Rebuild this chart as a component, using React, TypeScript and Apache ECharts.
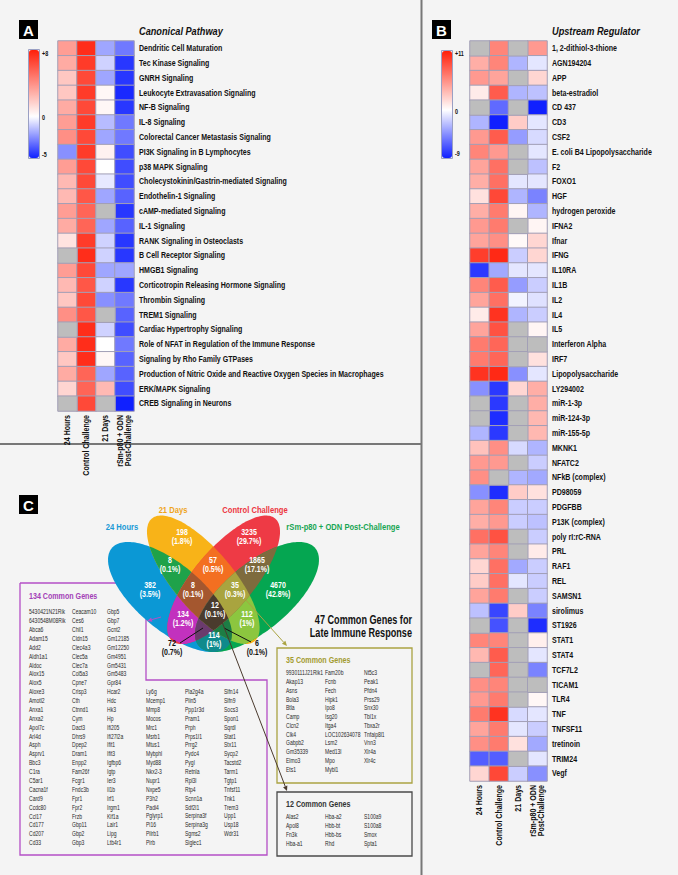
import React, { useEffect, useRef } from "react";
import * as echarts from "echarts";

const F = "'Liberation Sans', Arial, Helvetica, sans-serif";
const CX = 0.83; // horizontal condensing of the bold condensed typeface

// ---------- Panel A data ----------
const conditions = ["24 Hours", "Control Challenge", "21 Days", "rSm-p80 + ODN\nPost-Challenge"];
const pathways = [
  "Dendritic Cell Maturation", "Tec Kinase Signaling", "GNRH Signaling", "Leukocyte Extravasation Signaling",
  "NF-B Signaling", "IL-8 Signaling", "Colorectal Cancer Metastasis Signaling", "PI3K Signaling in B Lymphocytes",
  "p38 MAPK Signaling", "Cholecystokinin/Gastrin-mediated Signaling", "Endothelin-1 Signaling", "cAMP-mediated Signaling",
  "IL-1 Signaling", "RANK Signaling in Osteoclasts", "B Cell Receptor Signaling", "HMGB1 Signaling",
  "Corticotropin Releasing Hormone Signaling", "Thrombin Signaling", "TREM1 Signaling", "Cardiac Hypertrophy Signaling",
  "Role of NFAT in Regulation of the Immune Response", "Signaling by Rho Family GTPases",
  "Production of Nitric Oxide and Reactive Oxygen Species in Macrophages", "ERK/MAPK Signaling", "CREB Signaling in Neurons",
];
const pathway24h = [3.5, 3, 2, 2, 3, 3.5, 4, -2.5, 3.5, 2.5, 2.5, 3.5, 3, 1, null, 3.5, 2.5, 2, 4, null, 3, 2, 3, 1.5, null];
const pathwayControl = [7.5, 7, 6.5, 7, 6.5, 7, 6.5, 7, 6.5, 6.5, 6, 5.5, 5.5, 7, 7.5, 6.5, 6, 6.5, 6, 7.5, 7.5, 7.5, 5.5, 5.5, 6.5];
const pathway21d = [-2, -1, -2, 0.3, 0.3, -1.5, -2, 0.5, 0, -0.5, -2, null, -2, -1, -1, -2, -1, -2.5, null, -1, 0, 0.3, -2, 2.5, null];
const pathwayRsm = [-3, -4.5, -4.5, -4.8, -4.5, -3, -3, -4, -4, -4, -3.5, -4.5, -3.5, -4.5, -4.5, -2, -4.5, -3, -3.5, -4, -3, -3.5, -3.5, -4, -5];
const pathwayScale = [-5, 8];

// ---------- Panel B data ----------
const regulators = [
  "1, 2-dithiol-3-thione", "AGN194204", "APP", "beta-estradiol", "CD 437", "CD3", "CSF2", "E. coli B4 Lipopolysaccharide",
  "F2", "FOXO1", "HGF", "hydrogen peroxide", "IFNA2", "Ifnar", "IFNG", "IL10RA", "IL1B", "IL2", "IL4", "IL5",
  "Interferon Alpha", "IRF7", "Lipopolysaccharide", "LY294002", "miR-1-3p", "miR-124-3p", "miR-155-5p", "MKNK1",
  "NFATC2", "NFkB (complex)", "PD98059", "PDGFBB", "P13K (complex)", "poly rI:rC-RNA", "PRL", "RAF1", "REL", "SAMSN1",
  "sirolimus", "ST1926", "STAT1", "STAT4", "TCF7L2", "TICAM1", "TLR4", "TNF", "TNFSF11", "tretinoin", "TRIM24", "Vegf",
];
const regulator24h = [null, 4, 5, 1, null, -3, 5, 6, 4.5, 4, 1.5, 4, 5, 4.5, 9.5, -8, 6, 4.5, 1, 4.5,
  6.5, 6.5, 10, -4.5, null, null, -3, 3, 5, 5.5, -4.5, 4.5, 4, 7, 4.5, 2, 2.5, 4.5,
  -2.5, null, 6, 3.5, null, 5.5, 5, 6.5, 4.5, 5.5, -6.5, 2];
const regulatorControl = [6, 6, 4.5, 8, -6, -9, 8, 5, 7, 7, 9, 6.5, 6.5, 5.5, 10.5, -3.5, 8, 7, 10, 8.5,
  7.5, 7.5, 10.5, -8, -8, -8.5, -8, 5.5, 5, null, -8.5, 6, 5, 8.5, 6, 7, 7, 6.5,
  -7.5, -7, 6, 8, 7.5, 6, 6.5, 10, 6.5, 6.5, -6.5, 9];
const regulator21d = [null, -3, null, -3, null, 2.5, -4, null, null, -1, -3, 0.5, null, 0.3, -2, -1, -4, -0.5, -3, null,
  null, null, -4.5, 2, null, null, null, -1.5, null, -3, 2.5, -2, -2, null, null, -3.5, -1, null,
  2.5, null, null, null, null, null, null, -1.5, -1, 1.5, null, -2];
const regulatorRsm = [5, -1, 2, -2.5, -9, -1, -1.5, -1, -2.5, -1, -5, -3, 0.5, 2, 2, -1, -2, -1.2, -2, 0.5,
  null, 1.5, -1, 4, 4, 3.5, 3.5, -3, -2, -3.5, 1.5, -2, -2.5, -2, 1, -2, -2, -2,
  -5, -8.5, 0.8, -1, -5, null, 0.4, -1, -2, -3.5, -1, -4.5];
const regulatorScale = [-9, 11];

// ---------- Panel C data ----------
const vennSetNames = ["24 Hours", "21 Days", "Control Challenge", "rSm-p80 + ODN Post-Challenge"];
const vennRegions = ["B", "C", "AB", "BC", "CD", "A", "ABC", "BCD", "D", "AC", "ABCD", "BD", "AD", "ACD", "ABD"];
const vennCounts = [198, 3235, 8, 57, 1865, 382, 8, 35, 4670, 134, 12, 112, 114, 72, 6];
const vennPercents = ["1.8%", "29.7%", "0.1%", "0.5%", "17.1%", "3.5%", "0.1%", "0.3%", "42.8%", "1.2%", "0.1%", "1%", "1%", "0.7%", "0.1%"];

const genes134 = [
  ["5430421N21Rik", "6430548M08Rik", "Abca6", "Adam15", "Add2", "Aldh1a1", "Aldoc", "Alox15", "Alox5", "Aloxe3", "Amotl2", "Anxa1", "Anxa2", "Apol7c", "Arl4d", "Asph", "Asprv1", "Bbc3", "C1ra", "C5ar1", "Cacna1f", "Card9", "Ccdc80", "Ccl17", "Cd177", "Cd207", "Cd33"],
  ["Ceacam10", "Ces6", "Chil1", "Cldn15", "Clec4a3", "Clec5a", "Clec7a", "Col5a3", "Cpne7", "Crisp3", "Cth", "Ctnnd1", "Cym", "Dact3", "Dhrs9", "Dpep2", "Dram1", "Enpp2", "Fam26f", "Fcgr1", "Fndc3b", "Fpr1", "Fpr2", "Frzb", "Gbp11", "Gbp2", "Gbp3"],
  ["Gbp5", "Gbp7", "Gcnt2", "Gm12185", "Gm12250", "Gm4951", "Gm5431", "Gm5483", "Gpr84", "Hcar2", "Hdc", "Hk3", "Hp", "Ifi205", "Ifi27l2a", "Ifit1", "Ifit3", "Igfbp6", "Igtp", "Ier3", "Il1b", "Irf1", "Irgm1", "Kif1a", "Lair1", "Lipg", "Ltb4r1"],
  ["Ly6g", "Mcemp1", "Mmp8", "Mocos", "Mrc1", "Msrb1", "Mtus1", "Mybphl", "Myd88", "Nkx2-3", "Nupr1", "Nxpe5", "P3h2", "Padi4", "Pglyrp1", "Pi16", "Pilrb1", "Pirb"],
  ["Pla2g4a", "Plin5", "Ppp1r3d", "Pram1", "Prph", "Prps1l1", "Prrg2", "Pydc4", "Pygl", "Retnla", "Rpl3l", "Rtp4", "Scnn1a", "Sdf2l1", "Serpina3f", "Serpina3g", "Sgms2", "Siglec1"],
  ["Slfn14", "Slfn9", "Socs3", "Spon1", "Sqrdl", "Stat1", "Stx11", "Sycp2", "Tacstd2", "Tarm1", "Tgtp1", "Tnfsf11", "Tnk1", "Trem3", "Upp1", "Usp18", "Wdr31"],
];
const genes35 = [
  ["9930111J21Rik1", "Akap13", "Asns", "Bola3", "Btla", "Camp", "Clcn2", "Clk4", "Gabpb2", "Gm35339", "Elmo3", "Ets1"],
  ["Fam20b", "Fcnb", "Fech", "Hipk1", "Ipo8", "Isg20", "Itga4", "LOC102634078", "Lsm2", "Med13l", "Mpo", "Mybl1"],
  ["Nt5c3", "Peak1", "Pfdn4", "Prss29", "Snx30", "Tbl1x", "Tbxa2r", "Tnfaip8l1", "Vnn3", "Xlr4a", "Xlr4c"],
];
const genes12 = [
  ["Alas2", "Apol8", "Fn3k", "Hba-a1"],
  ["Hba-a2", "Hbb-bt", "Hbb-bs", "Rhd"],
  ["S100a9", "S100a8", "Smox", "Spta1"],
];

// ---------- helpers ----------
const GRAY = "#bdbdbd";
const BLUE = [16, 32, 255];
const RED = [255, 31, 10];

function mix(a: number[], t: number) {
  const c = a.map((v) => Math.round(255 + (v - 255) * t));
  return `rgb(${c[0]},${c[1]},${c[2]})`;
}
function ramp(min: number, max: number) {
  const out: string[] = [];
  for (let v = min; v <= max; v++) out.push(v < 0 ? mix(BLUE, -v / -min) : mix(RED, v / max));
  return out;
}
function cells(cols: (number | null)[][], missing: boolean) {
  const out: number[][] = [];
  cols.forEach((col, c) =>
    col.forEach((v, r) => {
      if (missing && v == null) out.push([c, r, 0]);
      if (!missing && v != null) out.push([c, r, v]);
    })
  );
  return out;
}

function ellipsePoly(cx: number, cy: number, a: number, b: number, deg: number, n = 180) {
  const t = (deg * Math.PI) / 180;
  const pts: number[][] = [];
  for (let i = 0; i < n; i++) {
    const s = (2 * Math.PI * i) / n;
    const ex = a * Math.cos(s), ey = b * Math.sin(s);
    pts.push([cx + ex * Math.cos(t) - ey * Math.sin(t), cy + ex * Math.sin(t) + ey * Math.cos(t)]);
  }
  return pts;
}
function inter(P: number[], Q: number[], A: number[], B: number[]) {
  const [x1, y1] = P, [x2, y2] = Q, [x3, y3] = A, [x4, y4] = B;
  const d = (x1 - x2) * (y3 - y4) - (y1 - y2) * (x3 - x4);
  const t = ((x1 - x3) * (y3 - y4) - (y1 - y3) * (x3 - x4)) / d;
  return [x1 + t * (x2 - x1), y1 + t * (y2 - y1)];
}
function clip(subject: number[][], cp: number[][]) {
  let area = 0;
  for (let i = 0; i < cp.length; i++) {
    const p = cp[i], q = cp[(i + 1) % cp.length];
    area += p[0] * q[1] - q[0] * p[1];
  }
  const sg = Math.sign(area);
  let output = subject;
  for (let i = 0; i < cp.length; i++) {
    const A = cp[i], B = cp[(i + 1) % cp.length];
    const input = output;
    output = [];
    if (!input.length) break;
    const inside = (p: number[]) => sg * ((B[0] - A[0]) * (p[1] - A[1]) - (B[1] - A[1]) * (p[0] - A[0])) >= 0;
    for (let j = 0; j < input.length; j++) {
      const P = input[j], Q = input[(j + 1) % input.length];
      const pin = inside(P), qin = inside(Q);
      if (pin) {
        output.push(P);
        if (!qin) output.push(inter(P, Q, A, B));
      } else if (qin) output.push(inter(P, Q, A, B));
    }
  }
  return output;
}
function arrow(x1: number, y1: number, x2: number, y2: number, color: string, w = 1) {
  const ang = Math.atan2(y2 - y1, x2 - x1);
  const L = 5, W = 2.3;
  const bx = x2 - L * Math.cos(ang), by = y2 - L * Math.sin(ang);
  return [
    { type: "line", silent: true, shape: { x1, y1, x2: bx, y2: by }, style: { stroke: color, lineWidth: w } },
    {
      type: "polygon", silent: true,
      shape: { points: [[x2, y2], [bx + W * Math.sin(ang), by - W * Math.cos(ang)], [bx - W * Math.sin(ang), by + W * Math.cos(ang)]] },
      style: { fill: color },
    },
  ];
}
function txt(x: number, y: number, text: string, o: any = {}) {
  const { scaleX, rotation, ...style } = o;
  return {
    type: "text", x, y, silent: true, scaleX: scaleX ?? 1, rotation: rotation ?? 0,
    style: { text, fontFamily: F, fontSize: 9, fill: "#111", textAlign: "left", textVerticalAlign: "middle", ...style },
  };
}
function geneCols(xs: number[], y0: number, rowH: number, cols: string[][], startRows: number[]) {
  return cols.map((names, i) =>
    txt(xs[i], y0 + startRows[i] * rowH - rowH / 2, names.join("\n"), {
      fontSize: 6.8, lineHeight: rowH, fill: "#2a2a2a", textVerticalAlign: "top", scaleX: 0.74,
    })
  );
}
function panelLabel(x: number, y: number, s: string) {
  return [
    { type: "rect", silent: true, shape: { x, y, width: 19, height: 19 }, style: { fill: "#000" } },
    txt(x + 9.5, y + 10, s, { fill: "#fff", fontSize: 15, fontWeight: "bold", textAlign: "center" }),
  ];
}
const bold = (o: any = {}) => ({ fontWeight: "bold", scaleX: CX, ...o });

// Venn layout (ellipses: 24 Hours, 21 Days, Control Challenge, rSm-p80), mirror-symmetric about x = 213.5
const ellipses = [
  { cx: 170, cy: 597, a: 76, b: 33, deg: 40 },
  { cx: 203.3, cy: 579.8, a: 80, b: 30, deg: 50 },
  { cx: 223.7, cy: 579.8, a: 80, b: 30, deg: 130 },
  { cx: 257, cy: 597, a: 76, b: 33, deg: 140 },
];
const regionColors: Record<string, string> = {
  A: "#0b98d5", B: "#f8b318", C: "#ee3a45", D: "#05a651",
  AB: "#1fa24a", BC: "#f36f21", CD: "#7e6b3d", AC: "#c231be", BD: "#8cc63f", AD: "#0f8a8c",
  ABC: "#a4572f", BCD: "#a9a43f", ACD: "#6b3b6d", ABD: "#1d7d45", ABCD: "#4a3b2d",
};
const regionLabelPos: Record<string, number[]> = {
  B: [182, 537], C: [249, 537], AB: [170, 565], BC: [213, 565], CD: [257, 565], A: [150, 590], ABC: [193, 590],
  BCD: [235, 590], D: [278, 590], AC: [183, 619], ABCD: [215, 610], BD: [247, 619], AD: [214, 640], ACD: [172, 648], ABD: [257, 648],
};

function buildVenn() {
  const polys = ellipses.map((e) => ellipsePoly(e.cx, e.cy, e.a, e.b, e.deg));
  const letters = ["A", "B", "C", "D"];
  const masks: number[] = [];
  for (let m = 1; m < 16; m++) masks.push(m);
  const pc = (m: number) => (m & 1) + ((m >> 1) & 1) + ((m >> 2) & 1) + ((m >> 3) & 1);
  masks.sort((x, y) => pc(x) - pc(y) || x - y);
  const els: any[] = [];
  masks.forEach((m) => {
    const idx = [0, 1, 2, 3].filter((i) => m & (1 << i));
    let poly = polys[idx[0]];
    for (let k = 1; k < idx.length; k++) poly = clip(poly, polys[idx[k]]);
    const key = idx.map((i) => letters[i]).join("");
    if (poly.length > 2) els.push({ type: "polygon", silent: true, shape: { points: poly }, style: { fill: regionColors[key] } });
  });
  return els;
}

export default function App() {
  const ref = useRef<HTMLDivElement>(null);
  useEffect(() => {
    document.body.style.margin = "0";
    const chart = echarts.init(ref.current!, null, { renderer: "svg" });

    const vennLabels = vennRegions.map((k, i) => {
      const [x, y] = regionLabelPos[k];
      const outside = k === "ACD" || k === "ABD";
      return txt(x, y, `${vennCounts[i]}\n(${vennPercents[i]})`, bold({
        fill: outside ? "#111" : "#fff", fontSize: 8.5, lineHeight: 8.5, textAlign: "center",
      }));
    });

    const graphics: any[] = [
      { type: "line", silent: true, shape: { x1: 421.5, y1: 0, x2: 421.5, y2: 875 }, style: { stroke: "#777", lineWidth: 2 } },
      { type: "line", silent: true, shape: { x1: 0, y1: 444, x2: 421, y2: 444 }, style: { stroke: "#777", lineWidth: 2 } },
      ...panelLabel(19, 20, "A"),
      ...panelLabel(432, 20, "B"),
      ...panelLabel(19, 495, "C"),
      txt(139, 31, "Canonical Pathway", bold({ fontSize: 11.5, fontStyle: "italic", scaleX: 0.8 })),
      txt(552, 31, "Upstream Regulator", bold({ fontSize: 11.5, fontStyle: "italic", scaleX: 0.8 })),
      { type: "rect", silent: true, shape: { x: 28.5, y: 49.5, width: 11, height: 109 }, style: { fill: "none", stroke: "#9aa0c4", lineWidth: 1 }, z: 10 },
      { type: "rect", silent: true, shape: { x: 441.5, y: 50.5, width: 11, height: 108 }, style: { fill: "none", stroke: "#9aa0c4", lineWidth: 1 }, z: 10 },
      txt(42, 54, "+" + pathwayScale[1], bold({ fontSize: 6.5 })),
      txt(42, 118, "0", bold({ fontSize: 6.5 })),
      txt(42, 155, String(pathwayScale[0]), bold({ fontSize: 6.5 })),
      txt(455, 54, "+" + regulatorScale[1], bold({ fontSize: 6.5 })),
      txt(455, 112, "0", bold({ fontSize: 6.5 })),
      txt(455, 154, String(regulatorScale[0]), bold({ fontSize: 6.5 })),
      { type: "polyline", silent: true, shape: { points: [[20, 583], [146, 583], [146, 680], [267, 680], [267, 855], [20, 855], [20, 583]] }, style: { stroke: "#b44fc6", lineWidth: 1.3, fill: "none" } },
      { type: "rect", silent: true, shape: { x: 277, y: 648, width: 135, height: 135 }, style: { stroke: "#aaa342", lineWidth: 1.3, fill: "none" } },
      { type: "rect", silent: true, shape: { x: 277, y: 792, width: 135, height: 64 }, style: { stroke: "#4a4a4a", lineWidth: 1.3, fill: "none" } },
      ...buildVenn(),
      ...vennLabels,
      { type: "line", silent: true, shape: { x1: 180, y1: 643, x2: 203, y2: 628 }, style: { stroke: "#111", lineWidth: 1 } },
      { type: "line", silent: true, shape: { x1: 224, y1: 628, x2: 251, y2: 642 }, style: { stroke: "#111", lineWidth: 1 } },
      ...arrow(161, 617, 147, 621, "#b44fc6", 1),
      ...arrow(244, 598, 287, 646, "#aaa342", 1),
      ...arrow(219, 614, 287, 791, "#4a3a2e", 1),
      txt(122, 527, vennSetNames[0], bold({ fill: "#1a9ad6", fontSize: 9.5, textAlign: "center", scaleX: 0.8 })),
      txt(173, 510, vennSetNames[1], bold({ fill: "#efa51c", fontSize: 9.5, textAlign: "center", scaleX: 0.8 })),
      txt(255, 510, vennSetNames[2], bold({ fill: "#ec3540", fontSize: 9.5, textAlign: "center", scaleX: 0.8 })),
      txt(343, 527, vennSetNames[3], bold({ fill: "#17a553", fontSize: 9.5, textAlign: "center", scaleX: 0.8 })),
      txt(412, 626, "47 Common Genes for\nLate Immune Response", bold({ fontSize: 12, lineHeight: 13.5, textAlign: "right", scaleX: 0.76 })),
      txt(29, 596, "134 Common Genes", bold({ fill: "#a33fb7", fontSize: 9.5, scaleX: 0.75 })),
      ...geneCols([29, 72, 107, 146, 185, 224], 612, 8.88, genes134, [0, 0, 0, 9, 9, 9]),
      txt(286, 660, "35 Common Genes", bold({ fill: "#a39b30", fontSize: 9.5, scaleX: 0.75 })),
      ...geneCols([286, 325, 364], 673, 8.77, genes35, [0, 0, 0]),
      txt(286, 804, "12 Common Genes", bold({ fill: "#333", fontSize: 9.5, scaleX: 0.75 })),
      ...geneCols([286, 325, 364], 817, 9, genes12, [0, 0, 0]),
    ];

    const hiddenAxis = { axisLine: { show: false }, axisTick: { show: false }, splitLine: { show: false }, axisLabel: { show: false } };
    const option: any = {
      animation: false,
      backgroundColor: "#f4f4f4",
      grid: [
        { left: 58, top: 41, width: 76, height: 370 },
        { left: 470, top: 41, width: 77, height: 740 },
      ],
      xAxis: [0, 1].map((g) => ({ type: "category", gridIndex: g, data: conditions, ...hiddenAxis })),
      yAxis: [pathways, regulators].map((d, g) => ({ type: "category", gridIndex: g, data: d, inverse: true, ...hiddenAxis })),
      visualMap: [
        {
          type: "continuous", seriesIndex: 0, min: pathwayScale[0], max: pathwayScale[1], calculable: false,
          left: 29, top: 50, itemWidth: 10, itemHeight: 108, padding: 0, hoverLink: false,
          inRange: { color: ramp(pathwayScale[0], pathwayScale[1]) },
        },
        {
          type: "continuous", seriesIndex: 1, min: regulatorScale[0], max: regulatorScale[1], calculable: false,
          left: 442, top: 51, itemWidth: 10, itemHeight: 107, padding: 0, hoverLink: false,
          inRange: { color: ramp(regulatorScale[0], regulatorScale[1]) },
        },
        {
          type: "continuous", show: false, seriesIndex: [2, 3], min: -1, max: 1,
          inRange: { color: [GRAY, GRAY] },
        },
      ],
      series: [
        { data: cells([pathway24h, pathwayControl, pathway21d, pathwayRsm], false), xAxisIndex: 0, yAxisIndex: 0 },
        { data: cells([regulator24h, regulatorControl, regulator21d, regulatorRsm], false), xAxisIndex: 1, yAxisIndex: 1 },
        { data: cells([pathway24h, pathwayControl, pathway21d, pathwayRsm], true), xAxisIndex: 0, yAxisIndex: 0 },
        { data: cells([regulator24h, regulatorControl, regulator21d, regulatorRsm], true), xAxisIndex: 1, yAxisIndex: 1 },
      ].map((s) => ({
        type: "heatmap", ...s,
        itemStyle: { borderColor: "#a29fb6", borderWidth: 1 }, emphasis: { disabled: true },
      })),
      graphic: { elements: graphics },
    };
    chart.setOption(option);

    // axis labels placed through the axes' own scales, in the condensed bold face
    const labels: any[] = [];
    [pathways, regulators].forEach((names, g) => {
      const x0 = chart.convertToPixel({ xAxisIndex: g }, 0) as number;
      const x1 = chart.convertToPixel({ xAxisIndex: g }, 1) as number;
      const bw = x1 - x0;
      const right = (chart.convertToPixel({ xAxisIndex: g }, conditions.length - 1) as number) + bw / 2;
      names.forEach((n, i) => {
        const y = chart.convertToPixel({ yAxisIndex: g }, i) as number;
        labels.push(txt(right + 5, y, n, bold({ fontSize: 8.5 })));
      });
      const yl = chart.convertToPixel({ yAxisIndex: g }, names.length - 1) as number;
      const yl0 = chart.convertToPixel({ yAxisIndex: g }, names.length - 2) as number;
      const bottom = yl + (yl - yl0) / 2;
      conditions.forEach((c, i) => {
        const x = chart.convertToPixel({ xAxisIndex: g }, i) as number;
        labels.push(txt(x, bottom + 4, c, bold({ fontSize: 8.5, lineHeight: 8.5, textAlign: "right", rotation: Math.PI / 2 })));
      });
    });
    chart.setOption({ graphic: { elements: [...graphics, ...labels] } });
    return () => chart.dispose();
  }, []);
  return <div ref={ref} style={{ width: 678, height: 875 }} />;
}
